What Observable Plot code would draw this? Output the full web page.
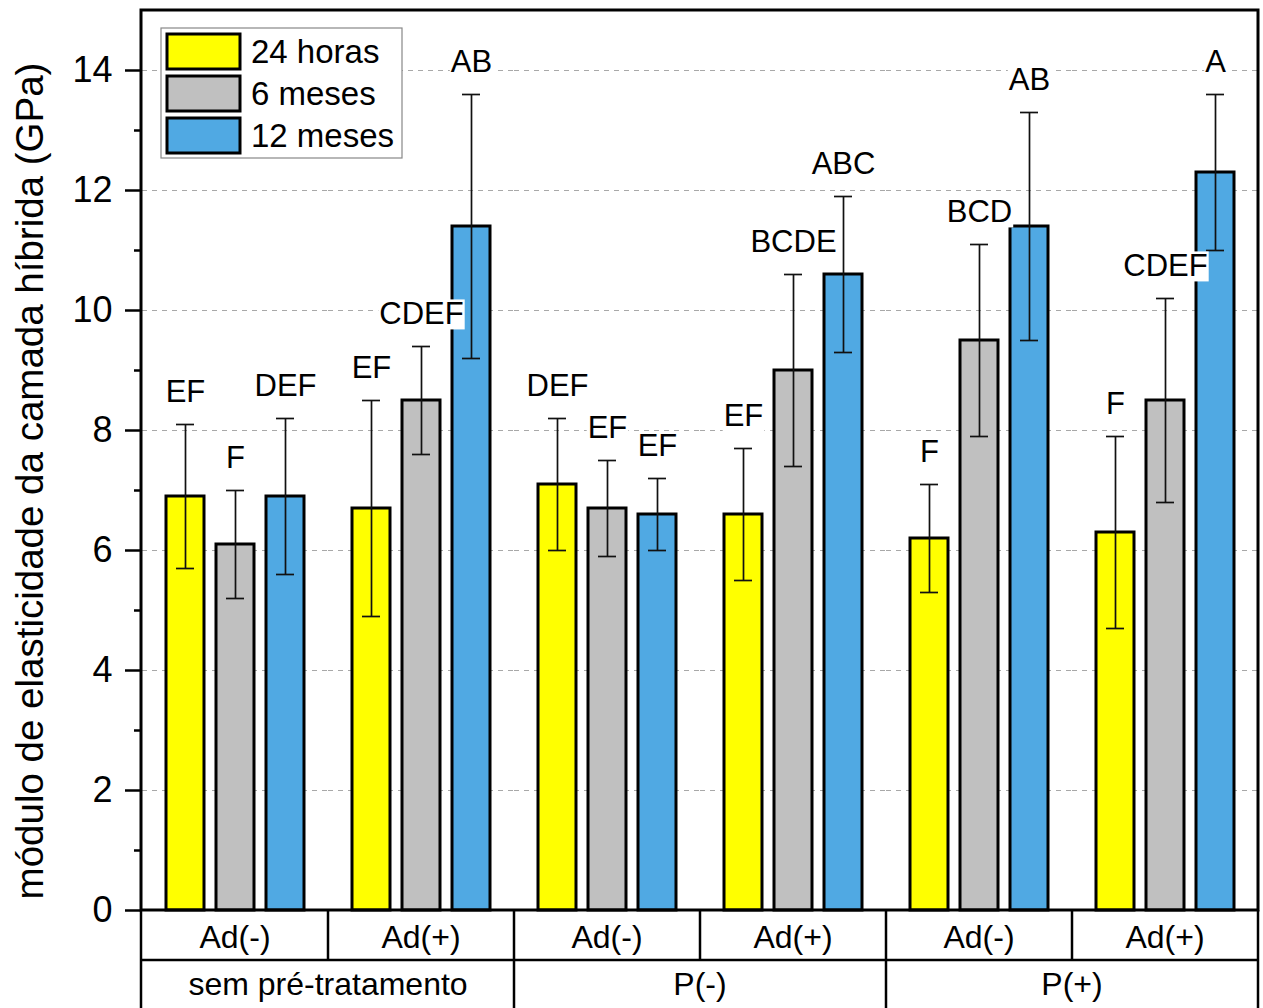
<!DOCTYPE html>
<html><head><meta charset="utf-8">
<script src="https://cdn.jsdelivr.net/npm/d3@7"></script>
<script src="https://cdn.jsdelivr.net/npm/@observablehq/plot@0.6"></script>
<style>body{margin:0;background:#fff} svg{display:block}</style>
</head><body><div id="chart"></div>
<script>
const treatments = ["sem pré-tratamento", "P(-)", "P(+)"];
const adhesives = ["Ad(-)", "Ad(+)"];
const periods = ["24 horas", "6 meses", "12 meses"];
const colors = ["#ffff00", "#c0c0c0", "#50a9e3"];
// one row per subgroup (treatment × adhesive); columns follow periods
const means = [
  [6.9, 6.1, 6.9],
  [6.7, 8.5, 11.4],
  [7.1, 6.7, 6.6],
  [6.6, 9.0, 10.6],
  [6.2, 9.5, 11.4],
  [6.3, 8.5, 12.3]
];
const errLow = [
  [5.7, 5.2, 5.6],
  [4.9, 7.6, 9.2],
  [6.0, 5.9, 6.0],
  [5.5, 7.4, 9.3],
  [5.3, 7.9, 9.5],
  [4.7, 6.8, 11.0]
];
const errHigh = [
  [8.1, 7.0, 8.2],
  [8.5, 9.4, 13.6],
  [8.2, 7.5, 7.2],
  [7.7, 10.6, 11.9],
  [7.1, 11.1, 13.3],
  [7.9, 10.2, 13.6]
];
const letters = [
  ["EF", "F", "DEF"],
  ["EF", "CDEF", "AB"],
  ["DEF", "EF", "EF"],
  ["EF", "BCDE", "ABC"],
  ["F", "BCD", "AB"],
  ["F", "CDEF", "A"]
];
const yMajor = [0, 2, 4, 6, 8, 10, 12, 14];
const yMinor = [1, 3, 5, 7, 9, 11, 13];
const yGrid = [2, 4, 6, 8, 10, 12, 14];
const yLabel = "módulo de elasticidade da camada híbrida (GPa)";

const FONT = "'Liberation Sans', Arial, Helvetica, sans-serif";

const keys = [];
const rows = [];
treatments.forEach((t, ti) => adhesives.forEach((a, ai) => {
  const k = t + "|" + a;
  const si = ti * adhesives.length + ai;
  keys.push(k);
  periods.forEach((p, pi) => rows.push({
    key: k, treatment: t, adhesive: a, period: p,
    mean: means[si][pi], lo: errLow[si][pi], hi: errHigh[si][pi], letter: letters[si][pi]
  }));
}));

const plot = Plot.plot({
  width: 1263, height: 1008,
  marginLeft: 141, marginRight: 5, marginTop: 10, marginBottom: 98,
  style: {fontFamily: FONT, background: "white", color: "black"},
  fx: {domain: keys, padding: 0, axis: null, label: null},
  x: {domain: periods, paddingInner: 0.24, paddingOuter: 0.48, axis: null},
  y: {domain: [0, 15], axis: null},
  color: {domain: periods, range: colors},
  marks: [
    Plot.gridY({ticks: yGrid, stroke: "#a8a8a8", strokeOpacity: 1, strokeDasharray: "5,5", strokeWidth: 1.2}),
    Plot.barY(rows, {fx: "key", x: "period", y: "mean", fill: "period", stroke: "black", strokeWidth: 3}),
    Plot.ruleX(rows, {fx: "key", x: "period", y1: "lo", y2: "hi", stroke: "#111", strokeWidth: 1.7}),
    Plot.tickY(rows, {fx: "key", x: "period", y: "lo", insetLeft: 10, insetRight: 10, stroke: "#111", strokeWidth: 1.7}),
    Plot.tickY(rows, {fx: "key", x: "period", y: "hi", insetLeft: 10, insetRight: 10, stroke: "#111", strokeWidth: 1.7}),
    Plot.text(rows, {fx: "key", x: "period", y: "hi", text: "letter", dy: -32, fontSize: 31, fill: "black"}),
    Plot.axisY({ticks: yMajor, tickSize: 17, tickPadding: 13, fontSize: 36, strokeWidth: 2.5, label: null}),
    Plot.axisY({ticks: yMinor, tickSize: 8, tickFormat: () => "", strokeWidth: 2.5, label: null})
  ]
});

document.getElementById("chart").append(plot);
const svg = d3.select(plot);
const fx = plot.scale("fx");
const ys = plot.scale("y");
const color = plot.scale("color");
const x0 = fx.range[0], x1 = fx.range[1];
const bw = fx.bandwidth != null ? fx.bandwidth : (x1 - x0) / keys.length;
const yBot = ys.apply(0), yTop = ys.apply(15);
const colX = k => fx.apply(k);

// white boxes behind significance letters
svg.selectAll('g[aria-label="text"] text').each(function () {
  const b = this.getBBox();
  d3.select(this.parentNode).insert("rect", () => this)
    .attr("x", b.x - 1).attr("y", b.y + 3).attr("width", b.width + 2).attr("height", b.height - 5)
    .attr("transform", this.getAttribute("transform"))
    .attr("fill", "white");
});

const g = svg.append("g");
// plot frame
g.append("rect").attr("x", x0).attr("y", yTop).attr("width", x1 - x0).attr("height", yBot - yTop)
  .attr("fill", "none").attr("stroke", "black").attr("stroke-width", 3);

// table under the axis
const row1 = yBot + 50, row2 = 1008;
const line = (xa, ya, xb, yb2) => g.append("line").attr("x1", xa).attr("y1", ya).attr("x2", xb).attr("y2", yb2)
  .attr("stroke", "black").attr("stroke-width", 2.5);
line(x0, row1, x1, row1);
line(x0, yBot, x0, row2);
keys.forEach((k, i) => {
  const xr = colX(k) + bw;
  const isGroupEnd = (i + 1) % adhesives.length === 0;
  line(xr, yBot, xr, isGroupEnd ? row2 : row1);
  g.append("text").attr("x", colX(k) + bw / 2).attr("y", yBot + 38)
    .attr("text-anchor", "middle").attr("font-size", 32).attr("font-family", FONT)
    .text(k.split("|")[1]);
});
treatments.forEach((t, ti) => {
  const first = keys[ti * adhesives.length], last = keys[ti * adhesives.length + adhesives.length - 1];
  const cx = (colX(first) + colX(last) + bw) / 2;
  g.append("text").attr("x", cx).attr("y", yBot + 85)
    .attr("text-anchor", "middle").attr("font-size", 32).attr("font-family", FONT).text(t);
});

// y label
g.append("text").attr("transform", `translate(43,${(yTop + yBot) / 2 + 21}) rotate(-90)`)
  .attr("text-anchor", "middle").attr("font-size", 38.5).attr("font-family", FONT).text(yLabel);

// legend
const lg = g.append("g");
lg.append("rect").attr("x", 161).attr("y", 28).attr("width", 241).attr("height", 130)
  .attr("fill", "white").attr("stroke", "#888").attr("stroke-width", 1.2);
periods.forEach((p, i) => {
  const yy = 34 + i * 42;
  lg.append("rect").attr("x", 167).attr("y", yy).attr("width", 73).attr("height", 35)
    .attr("fill", color.apply(p)).attr("stroke", "black").attr("stroke-width", 3);
  lg.append("text").attr("x", 251).attr("y", yy + 17.5).attr("dy", "0.36em")
    .attr("text-anchor", "start")
    .attr("font-size", 33).attr("font-family", FONT).text(p);
});
</script>
</body></html>
